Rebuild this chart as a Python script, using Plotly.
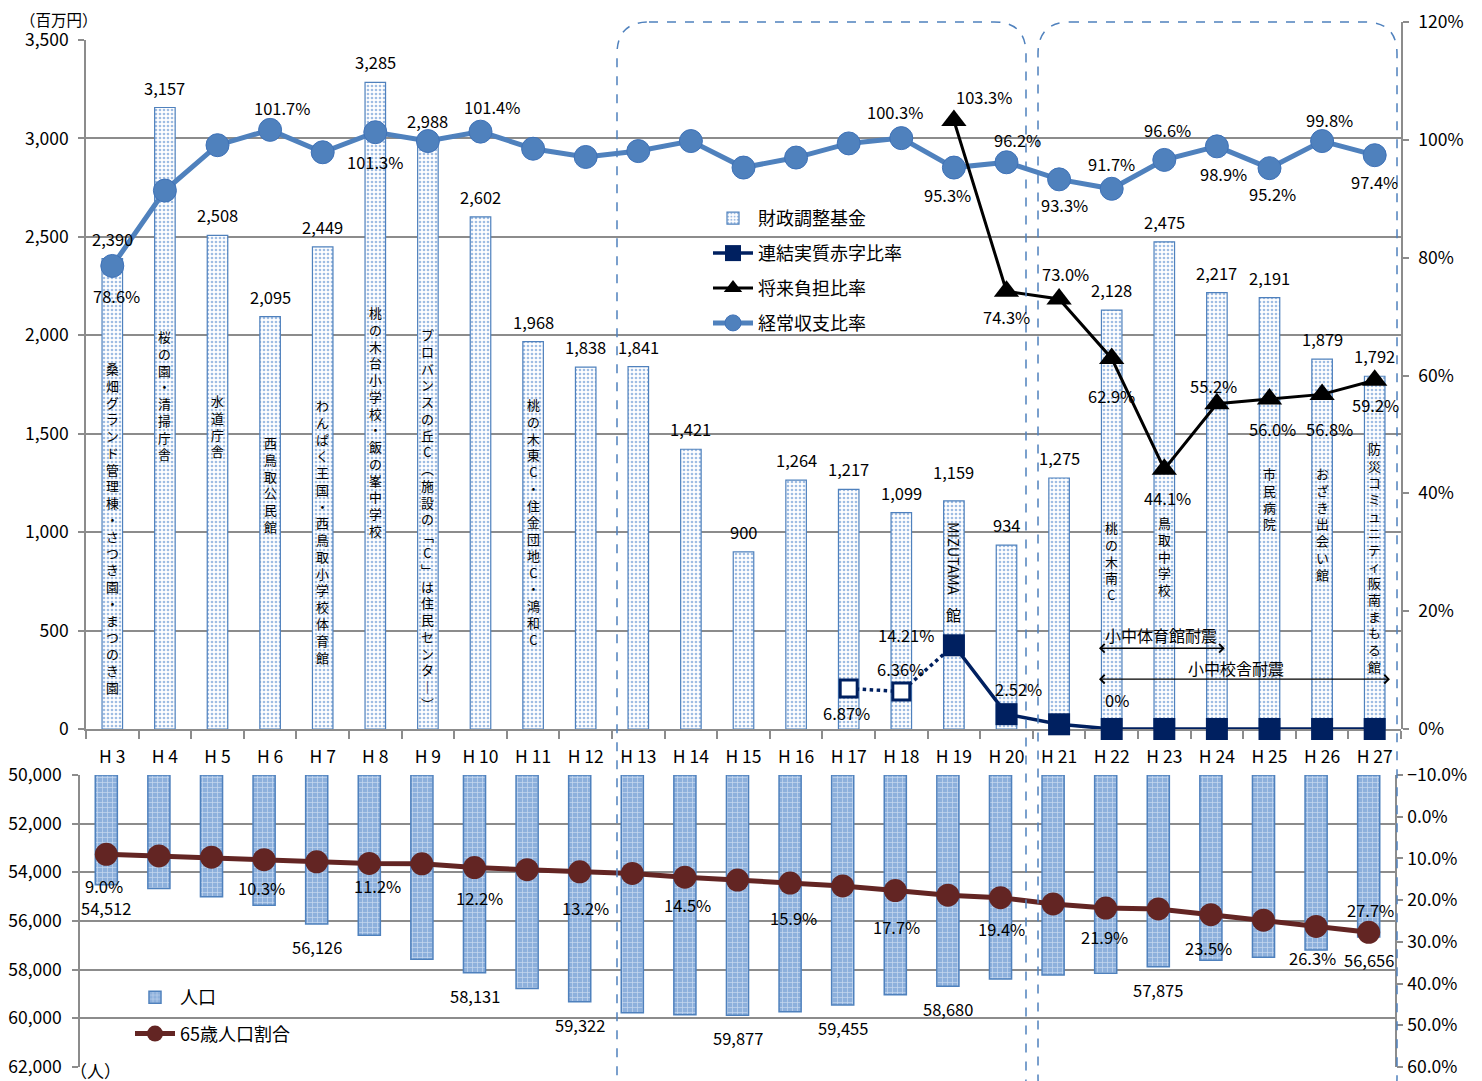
import plotly.graph_objects as go

W, H = 1482, 1081
FONT = "Noto Sans CJK JP"

# ---------------- data ----------------
years = ["H 3", "H 4", "H 5", "H 6", "H 7", "H 8", "H 9", "H 10", "H 11", "H 12",
         "H 13", "H 14", "H 15", "H 16", "H 17", "H 18", "H 19", "H 20", "H 21",
         "H 22", "H 23", "H 24", "H 25", "H 26", "H 27"]

fund = [2390, 3157, 2508, 2095, 2449, 3285, 2988, 2602, 1968, 1838, 1841, 1421, 900,
        1264, 1217, 1099, 1159, 934, 1275, 2128, 2475, 2217, 2191, 1879, 1792]

keijo = [78.6, 91.4, 99.1, 101.7, 97.9, 101.3, 99.8, 101.4, 98.5, 97.1, 98.1, 99.8, 95.3,
         97.0, 99.4, 100.3, 95.3, 96.2, 93.3, 91.7, 96.6, 98.9, 95.2, 99.8, 97.4]

shorai = [None] * 16 + [103.3, 74.3, 73.0, 62.9, 44.1, 55.2, 56.0, 56.8, 59.2]

renketsu = [None] * 14 + [6.87, 6.36, 14.21, 2.52, 0.8, 0, 0, 0, 0, 0, 0]

pop = [54512, 54660, 55000, 55350, 56126, 56590, 57575, 58131, 58770, 59322, 59770,
       59850, 59877, 59725, 59455, 59030, 58680, 58384, 58219, 58150, 57875, 57616,
       57493, 57192, 56656]

elder = [9.0, 9.4, 9.7, 10.3, 10.8, 11.2, 11.3, 12.2, 12.7, 13.2, 13.6, 14.5, 15.2,
         15.9, 16.6, 17.7, 18.8, 19.4, 20.9, 21.9, 22.1, 23.5, 24.8, 26.3, 27.7]

facilities = {
    "H 3": "桑畑グランド管理棟・さつき園・まつのき園",
    "H 4": "桜の園・清掃庁舎",
    "H 5": "水道庁舎",
    "H 6": "西鳥取公民館",
    "H 7": "わんぱく王国・西鳥取小学校体育館",
    "H 8": "桃の木台小学校・飯の峯中学校",
    "H 9": "プロバンスの丘C（施設の「C」は住民センター）",
    "H 11": "桃の木東C・住金団地C・鴻和C",
    "H 22": "桃の木南C",
    "H 23": "鳥取中学校",
    "H 25": "市民病院",
    "H 26": "おざき出会い館",
    "H 27": "防災コミュニティ阪南まもる館",
}
mizutama = ("H 19", "MIZUTAMA", "館")

# ---------------- layout helpers (positions / styles) ----------------
keijo_lab = {0: (4, -30), 3: (12, 22), 5: (0, -30), 7: (11, 25), 15: (-6, 26), 16: (-6, -27),
             17: (11, 22), 18: (5, -26), 19: (0, 25), 20: (3, 30), 21: (7, -28), 22: (3, -26),
             23: (7, 21), 24: (0, -27)}
shorai_lab = {16: (30, 23), 17: (0, -26), 18: (6, 25), 19: (0, -38), 20: (3, -29),
              21: (-3, 18), 22: (3, -30), 23: (7, -35), 24: (1, -25)}
ren_lab = {14: (-2, -24), 15: (-1, 23), 16: (-48, 10), 17: (12, 25), 19: (5, 29)}
pop_lab = [0, 4, 7, 9, 12, 14, 16, 20, 24]
elder_lab = {0: (-2, -32), 3: (-3, -28), 5: (8, -23), 7: (5, -30), 9: (6, -36), 11: (3, -28),
             13: (3, -35), 15: (1, -36), 17: (1, -31), 19: (-1, -29), 21: (-2, -33),
             23: (-4, -32), 24: (2, 22)}
fac_top = {"H 3": 1890, "H 4": 2050, "H 5": 1727, "H 6": 1515, "H 7": 1702, "H 8": 2175,
           "H 9": 2062, "H 11": 1707, "H 22": 1080, "H 23": 1105, "H 25": 1355, "H 26": 1355,
           "H 27": 1483}

PAGE_OFF = 8  # page body margin in the browser

def px_x(x):
    return (x - PAGE_OFF) / W

def px_y(y):
    return 1 - (y - PAGE_OFF) / H

VMAP = {"ー": "｜", "（": "︵", "）": "︶", "「": "﹁", "」": "﹂"}

def vert(s):
    return "<br>".join(VMAP.get(c, c) for c in s)

BLUE = "#4f81bd"
NAVY = "#002060"
DRED = "#632523"
GRID = "#8c8c8c"

fig = go.Figure()

# ---------------- top panel ----------------
fig.add_trace(go.Bar(
    x=years, y=fund, name="財政調整基金", xaxis="x", yaxis="y", width=0.39,
    marker=dict(color="white", line=dict(color=BLUE, width=1.2),
                pattern=dict(shape=".", fgcolor="#9fbde3", bgcolor="white", size=4, solidity=0.35)),
    legend="legend", legendrank=1, legendgroup="g1"))

fig.add_trace(go.Scatter(
    x=years, y=keijo, name="経常収支比率", xaxis="x", yaxis="y2", mode="lines+markers",
    line=dict(color=BLUE, width=5), cliponaxis=False,
    marker=dict(symbol="circle", size=23, color=BLUE, line=dict(color="#3f72b8", width=1)),
    legend="legend", legendrank=4, legendgroup="g4"))

fig.add_trace(go.Scatter(
    x=years[14:17], y=renketsu[14:17], xaxis="x", yaxis="y2", mode="lines+markers",
    line=dict(color=NAVY, width=3.5, dash="dot"), cliponaxis=False,
    marker=dict(symbol="square", size=17, color=["white", "white", NAVY],
                line=dict(color=NAVY, width=3)),
    showlegend=False, legend="legend", legendgroup="g2"))

fig.add_trace(go.Scatter(
    x=years[16:], y=renketsu[16:], name="連結実質赤字比率", xaxis="x", yaxis="y2",
    mode="lines+markers", line=dict(color=NAVY, width=3.5), cliponaxis=False,
    marker=dict(symbol="square", size=22, color=NAVY),
    legend="legend", legendrank=2, legendgroup="g2"))

fig.add_trace(go.Scatter(
    x=years[16:], y=shorai[16:], name="将来負担比率", xaxis="x", yaxis="y2",
    mode="lines+markers", line=dict(color="black", width=3), cliponaxis=False,
    marker=dict(symbol="triangle-up", size=22, color="black"),
    legend="legend", legendrank=3, legendgroup="g3"))

# ---------------- bottom panel ----------------
fig.add_trace(go.Bar(
    x=years, y=[p - 50000 for p in pop], base=50000, name="人口", xaxis="x2", yaxis="y3",
    width=0.42,
    marker=dict(color="#95b3d7", line=dict(color=BLUE, width=1.5),
                pattern=dict(shape="+", fgcolor="#c9daf0", bgcolor="#8db0dc", size=5, solidity=0.25)),
    legend="legend2", legendgroup="p1"))

fig.add_trace(go.Scatter(
    x=years, y=elder, name="65歳人口割合", xaxis="x2", yaxis="y4", mode="lines+markers",
    line=dict(color=DRED, width=5), marker=dict(symbol="circle", size=23, color=DRED),
    legend="legend2", legendgroup="p2"))

# ---------------- annotations ----------------
ann = []
LF = dict(family=FONT, size=16.5, color="black")

for i in range(len(years)):
    ann.append(dict(x=years[i], y=fund[i], xref="x", yref="y", text=f"{fund[i]:,}",
                    showarrow=False, yshift=29 if years[i] == "H 19" else 20, font=LF))
for i, (dx, dy) in keijo_lab.items():
    ann.append(dict(x=years[i], y=keijo[i], xref="x", yref="y2", text=f"{keijo[i]:.1f}%",
                    showarrow=False, xshift=dx, yshift=dy, font=LF))
for i, (dx, dy) in shorai_lab.items():
    ann.append(dict(x=years[i], y=shorai[i], xref="x", yref="y2", text=f"{shorai[i]:.1f}%",
                    showarrow=False, xshift=dx, yshift=dy, font=LF))
for i, (dx, dy) in ren_lab.items():
    v = renketsu[i]
    t = "0%" if v == 0 else f"{v:.2f}%"
    ann.append(dict(x=years[i], y=v, xref="x", yref="y2", text=t,
                    showarrow=False, xshift=dx, yshift=dy, font=LF))
for i in pop_lab:
    ann.append(dict(x=years[i], y=pop[i], xref="x2", yref="y3", text=f"{pop[i]:,}",
                    showarrow=False, yshift=-23, font=LF))
for i, (dx, dy) in elder_lab.items():
    ann.append(dict(x=years[i], y=elder[i], xref="x2", yref="y4", text=f"{elder[i]:.1f}%",
                    showarrow=False, xshift=dx, yshift=dy, font=LF))

VF = dict(family=FONT, size=12.9, color="black")
for k, name in facilities.items():
    ann.append(dict(x=k, y=fac_top[k], xref="x", yref="y", text=vert(name), showarrow=False,
                    yanchor="top", xanchor="center", align="center", font=VF))
ann.append(dict(x=mizutama[0], y=864, xref="x", yref="y", text=mizutama[1], textangle=90,
                showarrow=False, font=dict(family=FONT, size=14.5, color="black")))
ann.append(dict(x=mizutama[0], y=584, xref="x", yref="y", text=mizutama[2],
                showarrow=False, font=dict(family=FONT, size=15, color="black")))

ann.append(dict(x=21.15, y=13.7, ax=18.73, ay=13.7, xref="x", yref="y2", axref="x", ayref="y2",
                text="", showarrow=True, arrowhead=4, startarrowhead=4, arrowside="end+start",
                arrowsize=1.2, startarrowsize=1.2, arrowwidth=1.4, arrowcolor="black",
                standoff=0, startstandoff=0))
ann.append(dict(x=24.29, y=8.46, ax=18.73, ay=8.46, xref="x", yref="y2", axref="x", ayref="y2",
                text="", showarrow=True, arrowhead=4, startarrowhead=4, arrowside="end+start",
                arrowsize=1.2, startarrowsize=1.2, arrowwidth=1.4, arrowcolor="black",
                standoff=0, startstandoff=0))
ann.append(dict(x=19.94, y=13.7, xref="x", yref="y2", text="小中体育館耐震", showarrow=False,
                yshift=13, font=dict(family=FONT, size=16, color="black")))
ann.append(dict(x=21.37, y=8.46, xref="x", yref="y2", text="小中校舎耐震", showarrow=False,
                yshift=11, font=dict(family=FONT, size=16, color="black")))

ann.append(dict(x=px_x(18), y=px_y(19), xref="paper", yref="paper", text="（百万円）",
                showarrow=False, xanchor="left", yanchor="middle",
                font=dict(family=FONT, size=15.5, color="black")))
ann.append(dict(x=px_x(68), y=px_y(1070), xref="paper", yref="paper", text="（人）",
                showarrow=False, xanchor="left", yanchor="middle",
                font=dict(family=FONT, size=17, color="black")))

# ---------------- dashed rounded frames ----------------
def rrect(x0, y0, x1, y1, r):
    X = lambda v: f"{px_x(v):.5f}"
    Y = lambda v: f"{px_y(v):.5f}"
    return (f"M {X(x0 + r)},{Y(y0)} L {X(x1 - r)},{Y(y0)} Q {X(x1)},{Y(y0)} {X(x1)},{Y(y0 + r)} "
            f"L {X(x1)},{Y(y1 - r)} Q {X(x1)},{Y(y1)} {X(x1 - r)},{Y(y1)} "
            f"L {X(x0 + r)},{Y(y1)} Q {X(x0)},{Y(y1)} {X(x0)},{Y(y1 - r)} "
            f"L {X(x0)},{Y(y0 + r)} Q {X(x0)},{Y(y0)} {X(x0 + r)},{Y(y0)} Z")

shapes = []
for (a, b) in [(617, 1026), (1038, 1397)]:
    shapes.append(dict(type="path", path=rrect(a, 22, b, 1110, 32), xref="paper", yref="paper",
                       line=dict(color=BLUE, width=1.5, dash="dash"), layer="above"))

TF = dict(family=FONT, size=17.5, color="black")
AX = dict(showline=True, linecolor=GRID, linewidth=1.5, ticks="outside", tickcolor=GRID,
          ticklen=6, tickwidth=1.5, tickfont=TF, zeroline=False, automargin=False,
          ticklabeloverflow="allow")

fig.update_layout(
    template="none",
    width=W, height=H, margin=dict(l=0, r=0, t=0, b=0, pad=0, autoexpand=False),
    paper_bgcolor="white", plot_bgcolor="rgba(0,0,0,0)",
    font=dict(family=FONT, color="black"),
    barmode="overlay", showlegend=True, hovermode=False,
    xaxis=dict(domain=[px_x(86), px_x(1401)], anchor="y", type="category",
               range=[-0.5, len(years) - 0.5], autorange=False,
               showline=True, linecolor=GRID, linewidth=1.5, ticks="outside",
               tickson="boundaries", ticklen=8, tickcolor=GRID, tickwidth=1.5,
               tickfont=dict(family=FONT, size=17.5, color="black"), ticklabelstandoff=11,
               showgrid=False, zeroline=False, automargin=False),
    yaxis=dict(domain=[px_y(729), px_y(40)], anchor="x", range=[0, 3500], dtick=500,
               tickformat=",d", showgrid=True, gridcolor=GRID, gridwidth=1.5,
               ticklabelstandoff=6, **AX),
    yaxis2=dict(domain=[px_y(729), px_y(22)], anchor="x", side="right", range=[0, 120.01],
                tickmode="array", tickvals=[0, 20, 40, 60, 80, 100, 120],
                ticktext=["0%", "20%", "40%", "60%", "80%", "100%", "120%"],
                showgrid=False, ticklabelstandoff=6, **AX),
    xaxis2=dict(domain=[px_x(80), px_x(1395)], anchor="y3", type="category",
                range=[-0.5, len(years) - 0.5], autorange=False,
                showticklabels=False, showline=False, ticks="", showgrid=False, zeroline=False,
                automargin=False),
    yaxis3=dict(domain=[px_y(1067), px_y(775)], anchor="x2", range=[62000, 50000],
                dtick=2000, tickformat=",d", showgrid=True, gridcolor=GRID, gridwidth=1.5,
                ticklabelstandoff=7, **AX),
    yaxis4=dict(anchor="x2", overlaying="y3", side="right", range=[60, -10], dtick=10,
                tickformat=".1f", ticksuffix="%", showgrid=False, ticklabelstandoff=1, **AX),
    legend=dict(x=px_x(708), y=px_y(200), xanchor="left", yanchor="top",
                bgcolor="rgba(0,0,0,0)", font=dict(family=FONT, size=18, color="black"),
                traceorder="grouped", tracegroupgap=8.5, itemwidth=40),
    legend2=dict(x=px_x(130), y=px_y(979), xanchor="left", yanchor="top",
                 bgcolor="rgba(0,0,0,0)", font=dict(family=FONT, size=18, color="black"),
                 traceorder="grouped", tracegroupgap=10, itemwidth=40),
    annotations=ann, shapes=shapes,
)

fig.write_html("out.html")
